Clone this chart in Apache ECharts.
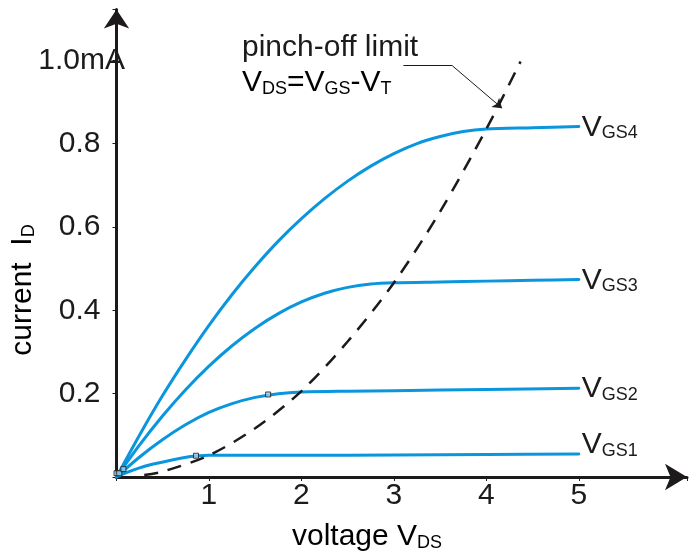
<!DOCTYPE html>
<html>
<head>
<meta charset="utf-8">
<script src="https://cdn.jsdelivr.net/npm/echarts@6/dist/echarts.min.js"></script>
<style>
html,body{margin:0;padding:0;background:#fff;}
#c{width:690px;height:557px;}
</style>
</head>
<body>
<div id="c"></div>
<script>
// ---- data ----
const xTicks = [1, 2, 3, 4, 5];
const yTicks = [0.2, 0.4, 0.6, 0.8];
const vgs4 = [[0,0],[0.25,0.101],[0.5,0.196],[0.75,0.283],[1.0,0.364],[1.25,0.438],[1.5,0.505],[1.75,0.566],[2.0,0.62],[2.25,0.668],[2.5,0.71],[2.75,0.746],[3.0,0.776],[3.25,0.8],[3.5,0.817],[3.75,0.829],[4.0,0.835],[4.5,0.838],[5.0,0.841]];
const vgs3 = [[0,0],[0.25,0.077],[0.5,0.147],[0.75,0.21],[1.0,0.266],[1.25,0.315],[1.5,0.357],[1.75,0.392],[2.0,0.42],[2.25,0.441],[2.5,0.455],[2.75,0.463],[3.0,0.466],[3.5,0.468],[4.0,0.47],[4.5,0.472],[5.0,0.474]];
const vgs2 = [[0,0],[0.25,0.048],[0.5,0.09],[0.75,0.126],[1.0,0.155],[1.25,0.176],[1.5,0.191],[1.75,0.2],[2.0,0.204],[2.5,0.206],[3.0,0.207],[4.0,0.21],[5.0,0.213]];
const vgs1 = [[0,0],[0.1,0.01],[0.25,0.022],[0.4,0.031],[0.6,0.041],[0.8,0.049],[0.9,0.051],[1.0,0.052],[2.0,0.052],[3.0,0.053],[4.0,0.054],[5.0,0.055]];
const pinchOff = [[0.3,0.005],[0.5,0.013],[1.0,0.052],[1.5,0.117],[2.0,0.206],[2.5,0.325],[3.0,0.466],[3.5,0.637],[4.0,0.835],[4.37,0.997]];
const junctionMarks = [[0.0,0.009],[0.03,0.009],[0.075,0.019],[0.86,0.051],[1.64,0.198]];
const arrowPath = [[3.103,0.987],[3.631,0.987],[4.17,0.885]];
const curveNames = ['GS4','GS3','GS2','GS1'];
const topLabelValue = 1.0;
const topLabelText = '1.0mA';

// ---- styling ----
const FONT = "'Liberation Sans', Arial, sans-serif";
const FS = 30;
const BLUE = '#0a96dc';
const INK = '#1c1a1a';
const chart = echarts.init(document.getElementById('c'), null, {renderer:'canvas'});

const subRich = {
  n: {fontFamily: FONT, fontSize: FS, color: INK, lineHeight: 32, verticalAlign: 'bottom'},
  s: {fontFamily: FONT, fontSize: 18, color: INK, lineHeight: 14, verticalAlign: 'bottom'}
};

function curveSeries(data, name, offset) {
  return {
    type: 'line', data: data, name: name,
    smooth: 0.3, showSymbol: false, symbol: 'none',
    lineStyle: {color: BLUE, width: 3, join: 'round', cap: 'round'},
    z: 3,
    endLabel: {
      show: true, distance: 3, offset: offset,
      formatter: '{n|V}{s|' + name + '}',
      rich: subRich
    }
  };
}

const option = {
  animation: false,
  backgroundColor: '#fff',
  grid: {left: 116.5, top: 9.4, width: 572.3, height: 467.6, containLabel: false},
  xAxis: {
    type: 'value', min: 0, max: 6.17, interval: 1,
    splitLine: {show: false},
    axisLine: {show: true, lineStyle: {color: INK, width: 3}, symbol: ['none','arrow'], symbolSize: [20, 22]},
    axisTick: {show: true, length: 4, lineStyle: {color: INK, width: 1}},
    axisLabel: {
      margin: 4, fontFamily: FONT, fontSize: FS, color: INK,
      formatter: v => xTicks.indexOf(v) >= 0 ? String(v) : ''
    }
  },
  yAxis: {
    type: 'value', min: 0, max: 1.122, interval: 0.2,
    splitLine: {show: false},
    axisLine: {show: true, lineStyle: {color: INK, width: 3}, symbol: ['none','arrow'], symbolSize: [19, 19]},
    axisTick: {show: true, length: 4, lineStyle: {color: INK, width: 1}},
    axisLabel: {
      margin: 16, fontFamily: FONT, fontSize: FS, color: INK,
      formatter: v => {
        const hit = yTicks.find(t => Math.abs(t - v) < 1e-9);
        return hit !== undefined ? hit.toFixed(1) : '';
      }
    }
  },
  series: [
    curveSeries(vgs4, curveNames[0], [0, 0]),
    curveSeries(vgs3, curveNames[1], [0, 0]),
    curveSeries(vgs2, curveNames[2], [0, 0]),
    curveSeries(vgs1, curveNames[3], [0, -10]),
    {
      type: 'line', data: pinchOff, smooth: 0.3, showSymbol: false, symbol: 'none',
      lineStyle: {color: INK, width: 2.5, type: [14, 10]},
      z: 4,
      markLine: {
        silent: true, animation: false,
        label: {show: false},
        lineStyle: {color: INK, width: 1, type: 'solid'},
        symbolSize: 9,
        data: [
          [{coord: arrowPath[0], symbol: 'none'}, {coord: arrowPath[1], symbol: 'none'}],
          [{coord: arrowPath[1], symbol: 'none'}, {coord: arrowPath[2], symbol: 'arrow'}]
        ]
      }
    },
    {
      type: 'scatter', data: junctionMarks, symbol: 'rect', symbolSize: 5,
      itemStyle: {color: '#9fd2ee', borderColor: INK, borderWidth: 1},
      z: 6, silent: true
    }
  ]
};
chart.setOption(option);

const yTop = chart.convertToPixel({yAxisIndex: 0}, topLabelValue);
chart.setOption({
  graphic: [
    {type: 'text', x: 125, y: yTop, silent: true,
     style: {text: topLabelText, font: FS + 'px ' + FONT, fill: INK, align: 'right', verticalAlign: 'middle'}},
    {type: 'text', x: 242, y: 48, silent: true,
     style: {text: 'pinch-off limit', font: FS + 'px ' + FONT, fill: INK, align: 'left', verticalAlign: 'middle'}},
    {type: 'text', x: 242, y: 82, silent: true,
     style: {text: '{n|V}{s|DS}{n|=V}{s|GS}{n|-V}{s|T}', rich: subRich, align: 'left', verticalAlign: 'middle'}},
    {type: 'text', x: 292, y: 536, silent: true,
     style: {text: '{n|voltage V}{s|DS}', rich: subRich, align: 'left', verticalAlign: 'middle'}},
    {type: 'text', x: 22, y: 290, rotation: Math.PI / 2, silent: true,
     style: {text: '{n|current  I}{s|D}', rich: subRich, align: 'center', verticalAlign: 'middle'}}
  ]
});
</script>
</body>
</html>
